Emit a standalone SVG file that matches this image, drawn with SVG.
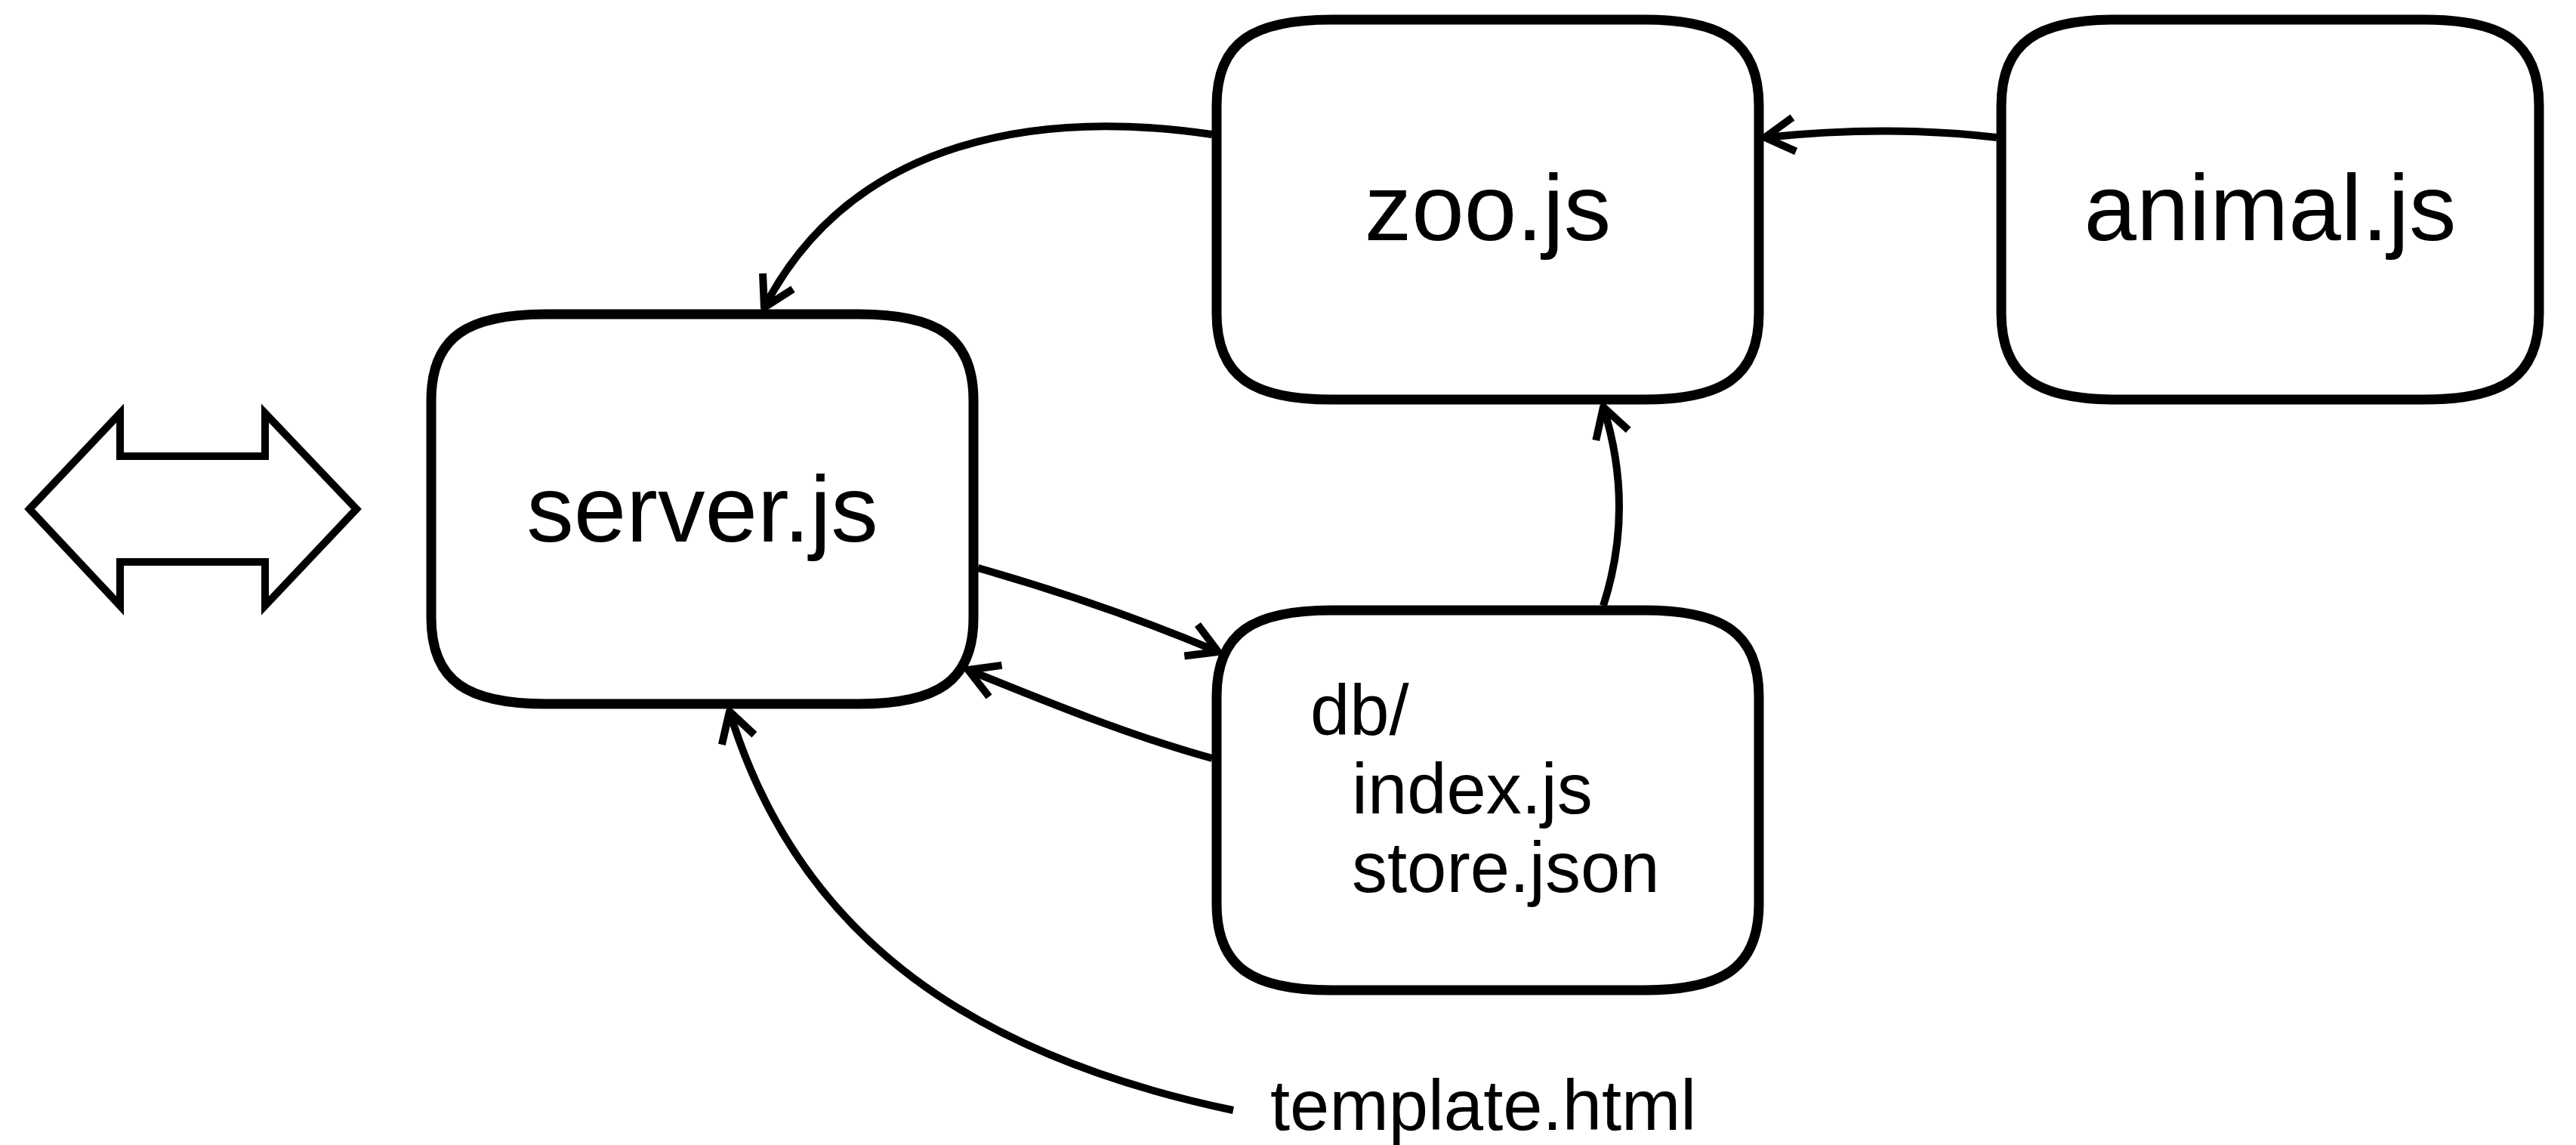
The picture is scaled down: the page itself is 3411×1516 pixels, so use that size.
<svg xmlns="http://www.w3.org/2000/svg" width="3411" height="1516" viewBox="0 0 3411 1516">
  <style>
    .box { fill: #fff; stroke: #000; stroke-width: 13; }
    .lbl { font-family: "Liberation Sans", Arial, sans-serif; fill: #000; }
    .big { font-size: 125px; text-anchor: middle; }
    .small { font-size: 94px; }
    .conn { fill: none; stroke: #000; stroke-width: 10; marker-end: url(#arr); }
  </style>
  <defs>
    <marker id="arr" markerUnits="userSpaceOnUse" orient="auto" overflow="visible" markerWidth="1" markerHeight="1" refX="0" refY="0">
      <path d="M-39,-22.5 L0,0 L-39,22.5" fill="none" stroke="#000" stroke-width="10" stroke-linejoin="round"/>
    </marker>
  </defs>
  <rect width="3411" height="1516" fill="#fff"/>

  <g id="browser">
    <path d="M39,674 L159,547 L159,604 L351,604 L351,547 L472,674 L351,802 L351,744 L159,744 L159,802 Z" fill="#fff" stroke="#000" stroke-width="10" stroke-linejoin="miter"/>
  </g>

  <g id="server">
    <path class="box" d="M723,416 L1137,416 C1240,416 1289,445 1289,530 L1289,818 C1289,903 1240,932 1137,932 L723,932 C620,932 571,903 571,818 L571,530 C571,445 620,416 723,416 Z"/>
    <text class="lbl big" x="930" y="717">server.js</text>
  </g>

  <g id="zoo">
    <path class="box" d="M1763,26 L2177,26 C2280,26 2329,55 2329,140 L2329,415 C2329,500 2280,529 2177,529 L1763,529 C1660,529 1611,500 1611,415 L1611,140 C1611,55 1660,26 1763,26 Z"/>
    <text class="lbl big" x="1970" y="318">zoo.js</text>
  </g>

  <g id="animal">
    <path class="box" d="M2802,26 L3210,26 C3313,26 3362,55 3362,140 L3362,415 C3362,500 3313,529 3210,529 L2802,529 C2699,529 2650,500 2650,415 L2650,140 C2650,55 2699,26 2802,26 Z"/>
    <text class="lbl big" x="3006" y="318">animal.js</text>
  </g>

  <g id="db">
    <path class="box" d="M1763,808 L2177,808 C2280,808 2329,837 2329,922 L2329,1197 C2329,1282 2280,1311 2177,1311 L1763,1311 C1660,1311 1611,1282 1611,1197 L1611,922 C1611,837 1660,808 1763,808 Z"/>
    <text class="lbl small"><tspan x="1735" y="973">db/</tspan><tspan x="1790" y="1077">index.js</tspan><tspan x="1790" y="1181">store.json</tspan></text>
  </g>

  <g id="template">
    <text class="lbl small" x="1682" y="1496">template.html</text>
  </g>

  <g id="connectors">
    <path class="conn" d="M1605,178 C1380,145 1130,180 1012,407"/>
    <path class="conn" d="M2644,182 Q2500,165 2337,182"/>
    <path class="conn" d="M2123,802 Q2165,672 2123,539"/>
    <path class="conn" d="M1295,752 C1400,782 1500,815 1613,863"/>
    <path class="conn" d="M1605,1004 C1500,975 1400,935 1282,887"/>
    <path class="conn" d="M1633,1470 C1300,1400 1060,1250 966,942"/>
  </g>
</svg>
